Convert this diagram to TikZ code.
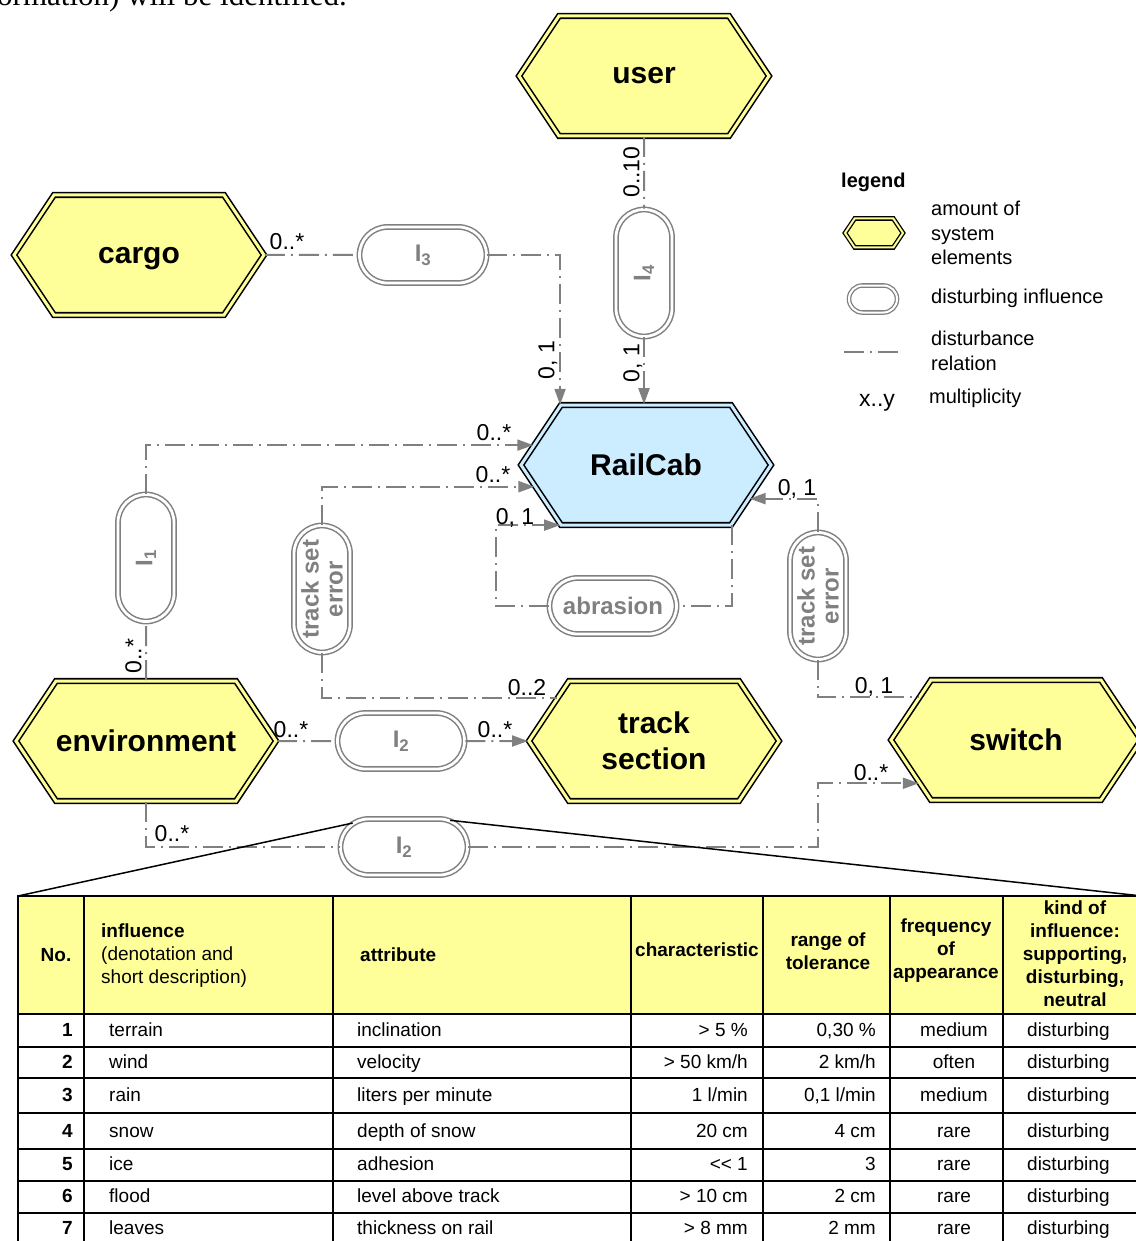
\documentclass[tikz,border=0pt]{standalone}
\usepackage{fontspec}
\setmainfont{Liberation Sans}
\newfontfamily\bodyfont{Liberation Serif}
\usetikzlibrary{calc,positioning,arrows.meta,shapes.symbols,shapes.misc}

\definecolor{sysyellow}{RGB}{255,255,153}
\definecolor{cabblue}{RGB}{204,236,255}
\definecolor{relgray}{RGB}{128,128,128}
\newcommand{\fsz}[2]{\fontsize{#1}{#2}\selectfont}

\begin{document}
\begin{tikzpicture}[x=1pt, y=-1pt
        , sys/.style={ shape=signal, signal to=west and east, signal pointer angle=112.6
            , minimum width=250pt, minimum height=120pt, inner sep=0pt
            , draw=black, line width=1.6pt, double=sysyellow, double distance=3pt
            , fill=sysyellow, font=\bfseries\fsz{30}{36}, align=center }
        , infl/.style={ rounded rectangle, minimum width=127pt, minimum height=56pt, inner sep=0pt
            , draw=relgray, line width=1.5pt, double=white, double distance=2.8pt
            , fill=white, text=relgray, font=\bfseries\fsz{24}{24}, align=center }
        , rel/.style={ relgray, line width=2pt, dash pattern=on 20pt off 6pt on 2pt off 6pt }
        , arr/.style={ -{Triangle[length=16pt,width=11pt]} }
        , mult/.style={ font=\fsz{23}{26}, inner sep=0pt, text height=16.5pt, text depth=0pt }
        , th/.style={ font=\bfseries\fsz{19}{23}, inner sep=0pt, align=center }
        , td/.style={ font=\fsz{19}{23}, inner sep=0pt, text height=13.6pt, text depth=0pt }
        ]

        \useasboundingbox (0,0) rectangle (1135,1241);

        \node[anchor=base west, inner sep=0pt, font=\bodyfont\fsz{31}{36}] (frag) at (-3,6)
            {ormation) will be identified.};

        % system elements
        \node[sys] (user)  at (644,76)   {user};
        \node[sys, text depth=0pt] (cargo) at (139,255)  {cargo};
        \node[sys, fill=cabblue, double=cabblue] (rail) at (646,465) {RailCab};
        \node[sys] (env)   at (146,741)  {environment};
        \node[sys] (ts)    at (654,741)  {track\\section};
        \node[sys] (sw)    at (1016,740) {switch};

        % disturbing influences
        \node[infl] (i3) at (423,255) {I\textsubscript{3}};
        \node[infl, rotate=90] (i4) at (644,273) {I\textsubscript{4}};
        \node[infl, rotate=90] (i1) at (146,558) {I\textsubscript{1}};
        \node[infl, rotate=90] (tsl) at (322,589) {track set\\error};
        \node[infl] (abr) at (613,606) {abrasion};
        \node[infl, rotate=90] (tsr) at (818,596) {track set\\error};
        \node[infl] (i2a) at (401,741) {I\textsubscript{2}};
        \node[infl] (i2b) at (404,847) {I\textsubscript{2}};

        % disturbance relations
        \path[rel] (user) edge (i4)
                   (cargo) edge (i3)
                   (env) edge (i1)
                   (env) edge (i2a);
        \draw[rel,arr] (i4) -- (i4 |- rail.north);
        \draw[rel,arr] (i3) -| (rail.145);
        \draw[rel,arr] (i1) |- (rail.170);
        \draw[rel,arr] (tsl) |- (rail.191);
        \draw[rel] (tsl) |- (ts.156);
        \draw[rel,arr] (tsr) |- (rail.-18);
        \draw[rel] (tsr) |- (sw.156);
        \draw[rel] (rail.-35.5) |- (abr);
        \draw[rel,arr] (abr.west) -- ++(-53,0) |- (rail.215);
        \draw[rel,arr] (i2a) -- (ts);
        \draw[rel] (env) |- (i2b);
        \draw[rel,arr] (i2b) -| (tsr |- sw.204) -- (sw.204);

        % multiplicities
        \foreach \n/\x/\y/\r/\t in {m1/631/172/90/0..10, m2/631/363/90/{0, 1}, m3/546/360/90/{0, 1},
                m4/287/241/0/0..*, m5/494/432/0/0..*, m6/493/474/0/0..*, m7/515/516/0/{0, 1},
                m8/797/487/0/{0, 1}, m9/527/687/0/0..2, m10/874/685/0/{0, 1}, m11/133/656/90/0..*,
                m12/291/729/0/0..*, m13/495/729/0/0..*, m14/172/833/0/0..*, m15/871/772/0/0..*}
            \node[mult, rotate=\r] (\n) at (\x,\y) {\t};

        % legend
        \node[anchor=west, inner sep=0pt, font=\bfseries\fsz{20}{24}] (leg) at (841,182) {legend};
        \node[sys, minimum width=58pt, minimum height=29pt, line width=1.3pt, double distance=2pt] (legsys) at (874,233) {};
        \node[anchor=west, inner sep=0pt, align=left, font=\fsz{20}{24.5}] (legsyst) at (931,233) {amount of\\system\\elements};
        \node[infl, minimum width=48pt, minimum height=27pt, line width=1.3pt, double distance=2pt] (leginf) at (873,299) {};
        \node[anchor=west, inner sep=0pt, font=\fsz{20}{24}] (leginft) at (931,298) {disturbing influence};
        \coordinate (legrela) at (844,352);
        \coordinate (legrelb) at (899,352);
        \draw[rel] (legrela) -- (legrelb);
        \node[anchor=west, inner sep=0pt, align=left, font=\fsz{20}{24.5}] (legrelt) at (931,351) {disturbance\\relation};
        \node[mult] (legmul) at (877,398) {x..y};
        \node[anchor=west, inner sep=0pt, font=\fsz{20}{24}] (legmult) at (929,398) {multiplicity};

        % table of the influences
        \coordinate (tabtl) at (18,896);
        \coordinate (tabtr) at (1142,896);
        \fill[sysyellow] (18,896) rectangle (1142,1014);
        \foreach \y in {1047,1078,1113,1149,1181,1213}
            \draw[line width=1.2pt] (18,\y) -- (1142,\y);
        \foreach \x in {84,333,631,763,890,1003}
            \draw[line width=1.6pt] (\x,896) -- (\x,1245);
        \draw[line width=2.4pt] (18,1014) -- (1142,1014);
        \draw[line width=2.4pt] (1142,896) -- (18,896) -- (18,1245);
        \draw[line width=1.5pt] (i2b.155) -- (tabtl);
        \draw[line width=1.5pt] (i2b.30) -- (tabtr);

        \node[th] (hno) at (56,955) {No.};
        \node[th, anchor=west, align=left] (hinf) at (101,956)
            {influence\\\mdseries(denotation and\\\mdseries short description)};
        \node[th, anchor=west] (hatt) at (360,955) {attribute};
        \node[th] (hcha) at (697,950) {characteristic};
        \node[th] (hran) at (828,951) {range of\\tolerance};
        \node[th] (hfre) at (946,951) {frequency\\of\\appearance};
        \node[th] (hkin) at (1075,954) {kind of\\influence:\\supporting,\\disturbing,\\neutral};

        \foreach \y/\no/\inf/\att/\cha/\ran/\fre in {
                1030/1/terrain/inclination/{> 5 \%}/{0,30 \%}/medium,
                1062/2/wind/velocity/{> 50 km/h}/{2 km/h}/often,
                1095/3/rain/liters per minute/{1 l/min}/{0,1 l/min}/medium,
                1131/4/snow/depth of snow/20 cm/4 cm/rare,
                1164/5/ice/adhesion/{<{}< 1}/3/rare,
                1196/6/flood/level above track/{> 10 cm}/2 cm/rare,
                1228/7/leaves/thickness on rail/{> 8 mm}/2 mm/rare} {
            \node[td, anchor=east, font=\bfseries\fsz{19}{23}] (no\no) at (73,\y) {\no};
            \node[td, anchor=west] (inf\no) at (109,\y) {\inf};
            \node[td, anchor=west] (att\no) at (357,\y) {\att};
            \node[td, anchor=east] (cha\no) at (748,\y) {\cha};
            \node[td, anchor=east] (ran\no) at (876,\y) {\ran};
            \node[td] (fre\no) at (954,\y) {\fre};
            \node[td, anchor=west] (kin\no) at (1027,\y) {disturbing};
        }

    \end{tikzpicture}
\end{document}
